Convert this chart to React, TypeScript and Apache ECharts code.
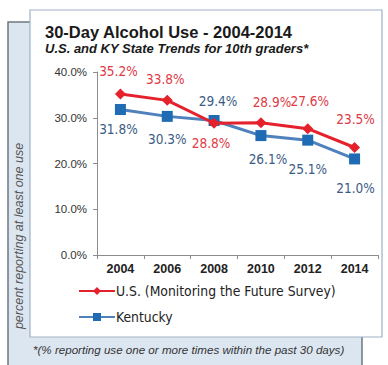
import React, { useEffect, useRef } from "react";
import * as echarts from "echarts";

const years = ["2004", "2006", "2008", "2010", "2012", "2014"];
const usValues = [35.2, 33.8, 28.8, 28.9, 27.6, 23.5];
const kyValues = [31.8, 30.3, 29.4, 26.1, 25.1, 21.0];
const yTicks = [0, 10, 20, 30, 40];
const usLabelPos = ["top", "top", "bottom", "top", "top", "top"];
const kyLabelPos = ["bottom", "bottom", "top", "bottom", "bottom", "bottom"];
const usLabelDist = [10, 9, 7, 8, 15, 16];
const kyLabelDist = [7, 10, 7, 11, 16, 17];
const usLabelDx = [-2, -2, -3, 11, 2, 1];
const kyLabelDx = [-2, 0, 4, 7, 0, 1];

const RED = "#e5222c";
const BLUE_LINE = "#4f81bd";
const BLUE_MARK = "#1f6cb5";
const RED_TEXT = "#e03a45";
const BLUE_TEXT = "#3b5b85";
const FONT = "'Liberation Sans Narrow', 'DejaVu Sans Condensed', 'Liberation Sans', sans-serif";

export default function App() {
  const ref = useRef<HTMLDivElement>(null);
  useEffect(() => {
    if (!ref.current) return;
    const chart = echarts.init(ref.current, null, { renderer: "svg" });
    const mk = (vals: number[], pos: string[], dist: number[], dx: number[], color: string) =>
      vals.map((v, i) => ({
        value: v,
        label: {
          show: true,
          position: pos[i],
          distance: dist[i],
          offset: [dx[i], 0],
          color,
          fontSize: 13.5,
          fontFamily: FONT,
          formatter: (p: any) => p.value.toFixed(1) + "%",
        },
      }));
    chart.setOption({
      animation: false,
      backgroundColor: "#ffffff",
      graphic: [
        {
          type: "rect",
          shape: { x: 8, y: 22, width: 354, height: 352 },
          style: { fill: "#dce6f1", stroke: "#6f7780", lineWidth: 1.5 },
          z: -10,
        },
        {
          type: "rect",
          shape: { x: 30, y: 10, width: 352, height: 327 },
          style: { fill: "#ffffff", stroke: "#9fb1c6", lineWidth: 1.2 },
          z: -9,
        },
        {
          type: "text",
          x: 45,
          y: 32,
          style: {
            text: "30-Day Alcohol Use - 2004-2014",
            font: "bold 16.5px 'Liberation Sans', sans-serif",
            fill: "#1a1a1a",
            verticalAlign: "middle",
          },
        },
        {
          type: "text",
          x: 45,
          y: 48,
          style: {
            text: "U.S. and KY State Trends for 10th graders*",
            font: "italic bold 13px 'Liberation Sans', sans-serif",
            fill: "#1a1a1a",
            verticalAlign: "middle",
          },
        },
        {
          type: "text",
          x: 19,
          y: 236,
          rotation: Math.PI / 2,
          style: {
            text: "percent reporting at least one use",
            font: "italic 12.5px 'Liberation Sans', sans-serif",
            fill: "#555555",
            align: "center",
            verticalAlign: "middle",
          },
        },
        {
          type: "text",
          x: 33,
          y: 349,
          style: {
            text: "*(% reporting use one or more times within the past 30 days)",
            font: "italic 11.6px 'Liberation Sans', sans-serif",
            fill: "#333333",
            verticalAlign: "middle",
          },
        },
      ],
      grid: { left: 97, right: 10, top: 72, bottom: 110, containLabel: false },
      legend: {
        orient: "vertical",
        left: 73,
        top: 279,
        itemWidth: 36,
        itemHeight: 10,
        itemGap: 12,
        textStyle: { fontSize: 13.8, color: "#222", fontFamily: FONT, padding: [0, 0, 0, -4] },
        data: ["U.S. (Monitoring the Future Survey)", "Kentucky"],
      },
      xAxis: {
        type: "category",
        data: years,
        boundaryGap: true,
        axisLine: { lineStyle: { color: "#8c8c8c", width: 1 } },
        axisTick: { show: true, length: 4, lineStyle: { color: "#8c8c8c" } },
        axisLabel: { fontWeight: "bold", fontSize: 12.5, color: "#222", margin: 7, fontFamily: "'Liberation Sans', sans-serif" },
      },
      yAxis: {
        type: "value",
        min: yTicks[0],
        max: yTicks[yTicks.length - 1],
        interval: 10,
        splitLine: { show: false },
        axisLine: { show: true, lineStyle: { color: "#8c8c8c", width: 1 } },
        axisTick: { show: true, length: 4, lineStyle: { color: "#8c8c8c" } },
        axisLabel: {
          fontSize: 11.5,
          color: "#333",
          margin: 10,
          fontFamily: "'Liberation Sans', sans-serif",
          formatter: (v: number) => v.toFixed(1) + "%",
        },
      },
      series: [
        {
          name: "U.S. (Monitoring the Future Survey)",
          type: "line",
          data: mk(usValues, usLabelPos, usLabelDist, usLabelDx, RED_TEXT),
          symbol: "diamond",
          symbolSize: 11,
          lineStyle: { color: RED, width: 3 },
          itemStyle: { color: RED },
          z: 3,
        },
        {
          name: "Kentucky",
          type: "line",
          data: mk(kyValues, kyLabelPos, kyLabelDist, kyLabelDx, BLUE_TEXT),
          symbol: "rect",
          symbolSize: 11,
          lineStyle: { color: BLUE_LINE, width: 3 },
          itemStyle: { color: BLUE_MARK },
          z: 2,
        },
      ],
    });
    return () => chart.dispose();
  }, []);
  return (
    <div
      ref={ref}
      style={{ position: "fixed", left: 0, top: 0, width: 388, height: 365 }}
    />
  );
}
